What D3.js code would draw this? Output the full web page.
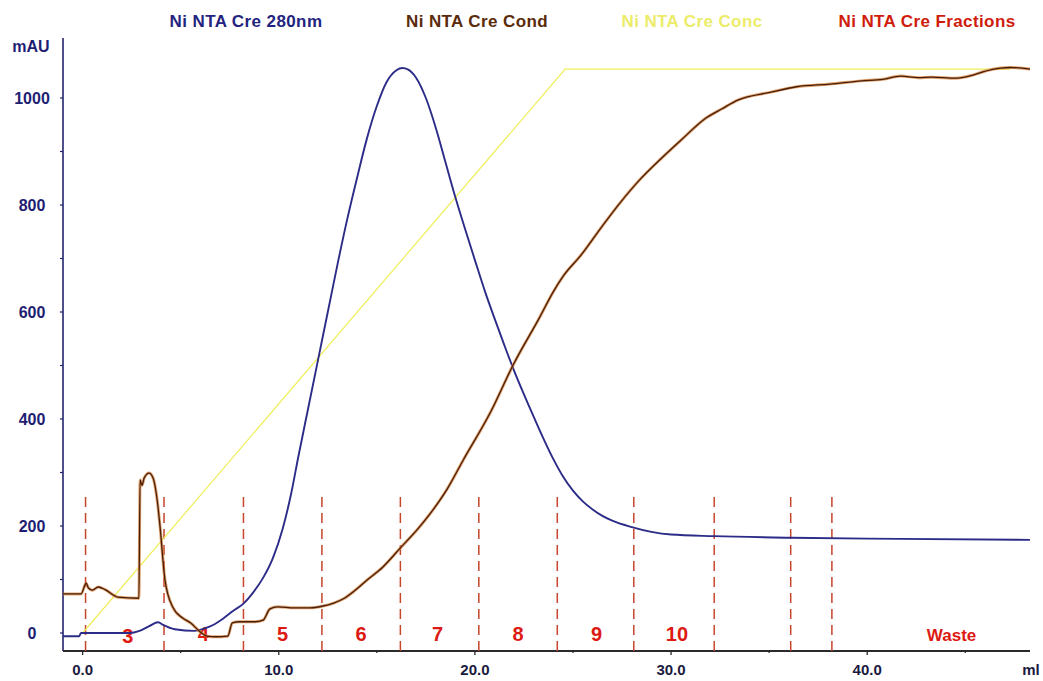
<html><head>
<title>Ni NTA Cre run</title>
<script src="https://d3js.org/d3.v7.min.js"></script>
<style>
  body { margin: 0; background: #fff; }
  text { font-family: "Liberation Sans", Arial, sans-serif; font-weight: bold; }
  line.frac {
    stroke: #c8452c;
    stroke-width: 1.5px;
    stroke-dasharray: 10 6;
  }
</style>
</head>
<body>
<svg id="chart" width="1043" height="681"></svg>

<script>
// values (ml, mAU)
const uvData = [
  [-1.0, -6], [-0.18, -6], [-0.08, 0], [2.4, 0], [2.9, 4], [3.4, 13], [3.85, 20],
  [4.1, 15], [4.7, 7], [5.7, 4], [6.25, 9], [6.65, 15], [7.2, 28], [7.7, 42],
  [8.2, 55], [8.7, 76], [9.2, 103], [9.7, 140], [10.2, 195], [10.6, 255],
  [11.0, 330], [11.5, 420], [12.0, 510], [12.5, 600], [13.0, 690], [13.5, 775],
  [14.0, 852], [14.5, 925], [15.0, 985], [15.5, 1030], [16.0, 1052], [16.3, 1056],
  [16.6, 1053], [17.0, 1038], [17.5, 1000], [18.0, 945], [18.5, 880], [19.0, 815],
  [19.5, 755], [20.0, 697], [20.5, 640], [21.0, 588], [21.5, 538], [22.0, 490],
  [22.5, 446], [23.0, 404], [23.5, 363], [24.0, 325], [24.5, 292], [25.0, 266],
  [25.5, 246], [26.0, 231], [26.5, 219], [27.0, 210], [28.0, 198], [29.0, 189],
  [30.0, 184], [32.2, 181], [36.1, 178], [41.7, 176], [48.3, 174]
];

const condData = [
  [-1.0, 73], [-0.08, 73], [0.18, 93], [0.3, 84], [0.5, 80], [0.8, 86], [1.15, 81],
  [1.8, 67], [2.87, 65], [2.93, 286], [3.03, 276], [3.14, 290], [3.39, 299],
  [3.6, 289], [3.8, 249], [3.95, 198], [4.2, 99], [4.6, 48], [5.1, 28], [5.5, 19],
  [6.0, 2], [6.35, -6], [6.8, -7], [7.4, -6], [7.63, 19], [8.0, 21], [8.8, 21],
  [9.2, 24], [9.55, 45], [9.95, 49], [10.8, 47], [11.6, 47], [12.2, 50], [12.8, 56],
  [13.3, 64], [13.9, 80], [14.5, 99], [15.3, 123], [16.2, 159], [17.1, 195],
  [17.9, 232], [18.6, 270], [19.4, 323], [20.8, 413], [21.95, 501], [23.3, 590],
  [24.0, 638], [24.5, 667], [25.4, 706], [26.4, 756], [27.4, 804], [28.4, 847],
  [29.5, 887], [30.5, 921], [31.8, 963], [32.6, 980], [33.4, 996], [35.1, 1011],
  [36.4, 1021], [38.1, 1026], [39.7, 1032], [40.8, 1035], [41.7, 1041], [42.6, 1038],
  [43.3, 1039], [44.5, 1037], [45.3, 1042], [45.9, 1049], [46.8, 1056], [47.3, 1057],
  [48.3, 1054]
];

// gradient, % B
const concData = [[0.0, 0], [24.6, 100], [47.3, 100]];

const fractionLines = [0.15, 4.15, 8.2, 12.2, 16.2, 20.2, 24.2, 28.1, 32.2, 36.1, 38.2];
const fractionNames = ["3", "4", "5", "6", "7", "8", "9", "10", "Waste"];
const fractionLabelAt = [2.3, 6.15, 10.2, 14.2, 18.1, 22.2, 26.2, 30.3, 44.3];

const yTicks = [0, 200, 400, 600, 800, 1000];
const yMinorTicks = [100, 300, 500, 700, 900];
const xTicks = [0, 10, 20, 30, 40];
const xMinorTicks = [5, 15, 25, 35, 45];

const legendNames = ["Ni NTA Cre 280nm", "Ni NTA Cre Cond", "Ni NTA Cre Conc", "Ni NTA Cre Fractions"];
const legendColors = ["#232380", "#5a2a0a", "#ecec6a", "#d01c0c"];
const legendX = [246, 477, 692, 927];

const svg = d3.select("#chart");

// scales
const x = d3.scaleLinear().domain([-1, 48.3]).range([63, 1030]);
const y = d3.scaleLinear().domain([0, 1000]).range([633, 98]);
const yConc = d3.scaleLinear().domain([0, 100]).range([y(0), y(1054)]);

// legend titles across the top
svg.selectAll("text.legend").data(legendNames)
   .join("text")
   .attr("class", "legend")
   .attr("x", (d, i) => legendX[i])
   .attr("y", 27)
   .attr("text-anchor", "middle")
   .attr("font-size", 17)
   .attr("letter-spacing", 0.4)
   .attr("fill", (d, i) => legendColors[i])
   .text(d => d);

// y axis
const yAxis = svg.append("g").attr("transform", "translate(63,0)");
yAxis.append("line")
     .attr("x1", 0).attr("x2", 0)
     .attr("y1", 38).attr("y2", 651)
     .attr("stroke", "#22226e").attr("stroke-width", 1.6);
yAxis.selectAll("line.ymaj").data(yTicks.concat(yMinorTicks))
     .join("line")
     .attr("class", "ymaj")
     .attr("x1", -3).attr("x2", 0)
     .attr("y1", d => y(d)).attr("y2", d => y(d))
     .attr("stroke", "#22226e").attr("stroke-width", 1.2);
svg.selectAll("text.ylab").data(yTicks)
   .join("text")
   .attr("class", "ylab")
   .attr("x", 32)
   .attr("y", d => y(d) + 6)
   .attr("text-anchor", "middle")
   .attr("font-size", 16)
   .attr("fill", "#1e1e72")
   .text(d => d);
svg.append("text")
   .attr("x", 31).attr("y", 52)
   .attr("text-anchor", "middle")
   .attr("font-size", 16)
   .attr("fill", "#1e1e72")
   .text("mAU");

// x axis
const xAxis = svg.append("g").attr("transform", "translate(0,651)");
xAxis.append("line")
     .attr("x1", 63).attr("x2", 1030)
     .attr("y1", 0).attr("y2", 0)
     .attr("stroke", "#2a2a2a").attr("stroke-width", 2);
xAxis.selectAll("line.xt").data(xTicks.concat(xMinorTicks))
     .join("line")
     .attr("class", "xt")
     .attr("x1", d => x(d)).attr("x2", d => x(d))
     .attr("y1", 0).attr("y2", d => xTicks.includes(d) ? 4 : 2)
     .attr("stroke", "#2a2a2a").attr("stroke-width", 1.3);
svg.selectAll("text.xlab").data(xTicks)
   .join("text")
   .attr("class", "xlab")
   .attr("x", d => x(d))
   .attr("y", 675)
   .attr("text-anchor", "middle")
   .attr("font-size", 15)
   .attr("fill", "#1a1a40")
   .text(d => d.toFixed(1));
svg.append("text")
   .attr("x", 1031).attr("y", 675)
   .attr("text-anchor", "middle")
   .attr("font-size", 15)
   .attr("fill", "#1a1a40")
   .text("ml");

// fraction marks
svg.selectAll("line.frac").data(fractionLines)
   .join("line")
   .attr("class", "frac")
   .attr("x1", d => x(d)).attr("x2", d => x(d))
   .attr("y1", 497).attr("y2", 651);

svg.selectAll("text.fraclab").data(fractionNames)
   .join("text")
   .attr("class", "fraclab")
   .attr("x", (d, i) => x(fractionLabelAt[i]))
   .attr("y", (d, i) => i == 0 ? 643 : 641)
   .attr("text-anchor", "middle")
   .attr("font-size", d => d == "Waste" ? 17 : 20)
   .attr("fill", "#dd1a12")
   .text(d => d);

// curves
const line = d3.line()
               .x(d => x(d[0]))
               .y(d => y(d[1]))
               .curve(d3.curveMonotoneX);

svg.append("path")
   .attr("d", d3.line().x(d => x(d[0])).y(d => yConc(d[1]))(concData))
   .attr("fill", "none")
   .attr("stroke", "#eeee5a")
   .attr("stroke-width", 1.2);

svg.append("path")
   .attr("d", line(uvData))
   .attr("fill", "none")
   .attr("stroke", "#2c2c88")
   .attr("stroke-width", 1.9);

// conductivity has an orange fringe in the original
svg.append("path")
   .attr("d", line(condData))
   .attr("fill", "none")
   .attr("stroke", "#d27a34")
   .attr("stroke-opacity", 0.7)
   .attr("stroke-width", 3);
svg.append("path")
   .attr("d", line(condData))
   .attr("fill", "none")
   .attr("stroke", "#4a1e06")
   .attr("stroke-width", 1.3);
</script>
</body>
</html>
